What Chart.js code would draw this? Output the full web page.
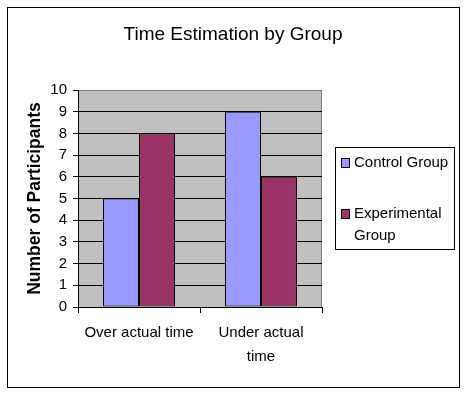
<!DOCTYPE html>
<html>
<head>
<meta charset="utf-8">
<title>Time Estimation by Group</title>
<script src="https://cdn.jsdelivr.net/npm/chart.js@4/dist/chart.umd.min.js"></script>
<style>
    body { margin: 0; background: #ffffff; }
    #timeChart { display: block; }
</style>
</head>
<body>
<canvas id="timeChart" width="468" height="396"></canvas>
<script>
// Datos del gráfico
const chartTitle = 'Time Estimation by Group';
const categories = [['Over actual time'], ['Under actual', 'time']];
const seriesNames = ['Control Group', 'Experimental Group'];
const controlValues = [5, 9];
const experimentalValues = [8, 6];
const yTicks = [0, 1, 2, 3, 4, 5, 6, 7, 8, 9, 10];

const fontFamily = '"Liberation Sans", Arial, sans-serif';
const seriesColors = ['#9999FF', '#993366'];

// Función para pintar el fondo gris del área, el título y el marco exterior
const plotBackground = {
    id: 'plotBackground',
    beforeDraw(chart) {
        const { ctx, chartArea } = chart;
        ctx.save();
        ctx.fillStyle = '#C0C0C0';
        ctx.fillRect(chartArea.left, chartArea.top, chartArea.right - chartArea.left, chartArea.bottom - chartArea.top);
        ctx.strokeStyle = '#808080';
        ctx.lineWidth = 1;
        ctx.beginPath();
        ctx.moveTo(Math.round(chartArea.right) - 0.5, chartArea.top);
        ctx.lineTo(Math.round(chartArea.right) - 0.5, chartArea.bottom);
        ctx.stroke();
        ctx.restore();
    },
    afterDraw(chart) {
        const ctx = chart.ctx;
        ctx.save();
        ctx.fillStyle = '#000000';
        ctx.font = '19px ' + fontFamily;
        ctx.textAlign = 'center';
        ctx.textBaseline = 'middle';
        ctx.fillText(chartTitle, 233, 35);
        ctx.strokeStyle = '#000000';
        ctx.lineWidth = 1;
        ctx.strokeRect(7.5, 7.5, 452, 380);
        ctx.restore();
    }
};

// Función para dibujar la leyenda con el texto partido en líneas
const boxLegend = {
    id: 'boxLegend',
    afterDraw(chart) {
        const ctx = chart.ctx;
        const box = { x: 335.5, y: 147.5, w: 119, h: 102 };
        const maxWidth = 98;
        const lineHeight = 22;
        ctx.save();
        ctx.fillStyle = '#ffffff';
        ctx.fillRect(box.x, box.y, box.w, box.h);
        ctx.strokeStyle = '#000000';
        ctx.lineWidth = 1;
        ctx.strokeRect(box.x, box.y, box.w, box.h);
        ctx.font = '15px ' + fontFamily;
        ctx.textBaseline = 'middle';
        ctx.textAlign = 'left';

        let y = 163;
        chart.data.datasets.forEach(dataset => {
            // partir el texto si no cabe
            const words = dataset.label.split(' ');
            const lines = [];
            let current = '';
            words.forEach(word => {
                const test = current ? current + ' ' + word : word;
                if (current && ctx.measureText(test).width > maxWidth) {
                    lines.push(current);
                    current = word;
                } else {
                    current = test;
                }
            });
            lines.push(current);

            ctx.fillStyle = dataset.backgroundColor;
            ctx.fillRect(341.5, y - 4.5, 8, 9);
            ctx.strokeStyle = '#000000';
            ctx.strokeRect(341.5, y - 4.5, 8, 9);

            ctx.fillStyle = '#000000';
            lines.forEach((line, j) => {
                ctx.fillText(line, 354, y + j * lineHeight);
            });
            y += 51;
        });
        ctx.restore();
    }
};

function initializeChart() {
    const ctx = document.getElementById('timeChart').getContext('2d');

    new Chart(ctx, {
        type: 'bar',
        data: {
            labels: categories,
            datasets: [{
                label: seriesNames[0],
                data: controlValues,
                backgroundColor: seriesColors[0],
                borderColor: '#000000',
                borderWidth: 1,
                borderSkipped: false
            }, {
                label: seriesNames[1],
                data: experimentalValues,
                backgroundColor: seriesColors[1],
                borderColor: '#000000',
                borderWidth: 1,
                borderSkipped: false
            }]
        },
        options: {
            responsive: false,
            animation: false,
            categoryPercentage: 0.59,
            barPercentage: 1,
            layout: {
                padding: { left: 0, right: 146, top: 90, bottom: 0 }
            },
            plugins: {
                legend: { display: false },
                tooltip: { enabled: false },
                title: { display: false }
            },
            scales: {
                x: {
                    afterFit: scale => { scale.height = 89; },
                    grid: {
                        display: true,
                        drawOnChartArea: false,
                        drawTicks: true,
                        tickLength: 6,
                        tickColor: '#000000',
                        offset: true
                    },
                    border: { color: '#000000', width: 1 },
                    ticks: {
                        color: '#000000',
                        font: { family: fontFamily, size: 15, lineHeight: 1.6 },
                        padding: 8,
                        maxRotation: 0,
                        autoSkip: false
                    }
                },
                y: {
                    min: 0,
                    max: 10,
                    afterFit: scale => { scale.width = 78; },
                    afterBuildTicks: scale => {
                        scale.ticks = yTicks.map(v => ({ value: v }));
                    },
                    grid: {
                        color: c => (c.tick && c.tick.value === 10 ? '#808080' : '#000000'),
                        tickColor: '#000000',
                        tickLength: 5,
                        lineWidth: 1
                    },
                    border: { color: '#000000', width: 1 },
                    ticks: {
                        color: '#000000',
                        font: { family: fontFamily, size: 15 },
                        padding: 6
                    },
                    title: {
                        display: true,
                        text: 'Number of Participants',
                        color: '#000000',
                        font: { family: fontFamily, size: 17.5, weight: 'bold', lineHeight: 1.2 },
                        padding: { top: 24.5, bottom: 0 }
                    }
                }
            }
        },
        plugins: [plotBackground, boxLegend]
    });
}

// Llamar a la función al cargar la página
document.addEventListener('DOMContentLoaded', function() {
    initializeChart();
});
</script>
</body>
</html>
